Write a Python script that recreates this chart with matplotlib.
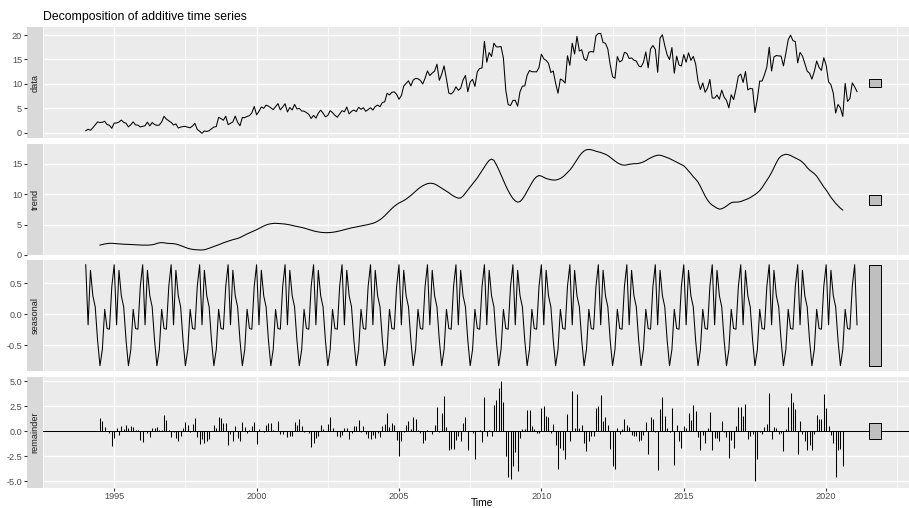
import numpy as np
import matplotlib
matplotlib.use("Agg")
import matplotlib.pyplot as plt
from matplotlib.patches import Rectangle

plt.rcParams["font.family"] = ["Liberation Sans", "DejaVu Sans"]
plt.rcParams["axes.unicode_minus"] = False

# monthly series, Jan 1994 .. Feb 2021 (additive decomposition, period 12)
start_year = 1994
n_obs = 326

# seasonal figure, Jan..Dec
seasonal_pattern = [0.80, -0.17, 0.71, 0.30, 0.12, -0.42, -0.83, -0.57, 0.08, -0.23, -0.24, 0.45]

# trend, Jul 1994 .. Aug 2020
trend_vals = [
    1.60, 1.70, 1.80, 1.85, 1.90, 1.90,
    1.87, 1.85, 1.82, 1.78, 1.75, 1.74, 1.72, 1.70, 1.68, 1.66, 1.64, 1.62,
    1.60, 1.60, 1.60, 1.62, 1.66, 1.75, 1.88, 1.98, 2.02, 1.98, 1.92, 1.88,
    1.86, 1.84, 1.78, 1.66, 1.52, 1.38, 1.22, 1.08, 0.98, 0.90, 0.85, 0.82,
    0.80, 0.80, 0.84, 0.95, 1.08, 1.22, 1.38, 1.52, 1.66, 1.82, 1.98, 2.12,
    2.25, 2.38, 2.50, 2.60, 2.70, 2.85, 3.05, 3.25, 3.45, 3.62, 3.80, 3.98,
    4.15, 4.35, 4.55, 4.75, 4.92, 5.05, 5.13, 5.18, 5.20, 5.18, 5.15, 5.12,
    5.08, 5.02, 4.95, 4.85, 4.76, 4.68, 4.60, 4.52, 4.42, 4.30, 4.18, 4.06,
    3.95, 3.85, 3.78, 3.72, 3.68, 3.66, 3.66, 3.68, 3.72, 3.78, 3.86, 3.95,
    4.05, 4.15, 4.25, 4.35, 4.45, 4.52, 4.60, 4.68, 4.76, 4.84, 4.92, 5.00,
    5.10, 5.20, 5.35, 5.55, 5.80, 6.10, 6.45, 6.85, 7.25, 7.65, 8.00, 8.30,
    8.55, 8.75, 8.95, 9.20, 9.50, 9.80, 10.15, 10.50, 10.85, 11.15, 11.40, 11.60,
    11.75, 11.82, 11.80, 11.70, 11.50, 11.25, 11.00, 10.75, 10.50, 10.25, 9.95, 9.70,
    9.50, 9.35, 9.40, 9.70, 10.20, 10.70, 11.20, 11.70, 12.20, 12.70, 13.30, 13.90,
    14.50, 15.10, 15.60, 15.80, 15.60, 14.90, 14.10, 13.20, 12.30, 11.40, 10.60, 9.90,
    9.30, 8.90, 8.70, 8.80, 9.20, 9.80, 10.50, 11.20, 11.90, 12.50, 12.90, 13.10,
    13.00, 12.80, 12.60, 12.50, 12.40, 12.35, 12.35, 12.45, 12.60, 12.85, 13.20, 13.60,
    14.00, 14.50, 15.10, 15.70, 16.30, 16.80, 17.15, 17.35, 17.40, 17.35, 17.25, 17.10,
    17.00, 16.90, 16.75, 16.60, 16.40, 16.10, 15.80, 15.50, 15.20, 15.00, 14.85, 14.80,
    14.85, 14.95, 15.00, 15.05, 15.05, 15.10, 15.20, 15.35, 15.55, 15.80, 16.00, 16.20,
    16.35, 16.45, 16.45, 16.35, 16.20, 16.05, 15.90, 15.70, 15.50, 15.30, 15.10, 14.90,
    14.70, 14.30, 13.85, 13.40, 12.90, 12.50, 12.00, 11.30, 10.50, 9.70, 9.05, 8.55,
    8.20, 7.95, 7.70, 7.55, 7.60, 7.80, 8.05, 8.35, 8.60, 8.70, 8.70, 8.72,
    8.80, 8.95, 9.10, 9.25, 9.45, 9.70, 9.95, 10.25, 10.60, 11.10, 11.70, 12.30,
    12.90, 13.60, 14.40, 15.20, 15.90, 16.30, 16.50, 16.60, 16.55, 16.40, 16.20, 16.00,
    15.80, 15.60, 15.30, 14.90, 14.40, 14.00, 13.70, 13.40, 13.00, 12.40, 11.80, 11.20,
    10.70, 10.10, 9.50, 9.00, 8.50, 8.10, 7.70, 7.40,
]

# remainder, Jul 1994 .. Aug 2020
remainder_vals = [
    1.3, 1.0, 0.45, 0.05, -0.15, -1.45, -0.7, 0.3, -0.35, 0.5,
    0.25, 0.6, 0.3, 0.5, 0.45, 0.15, 0.15, -0.9, -1.1, 0.0,
    -0.15, -0.55, 0.3, 0.35, 0.45, 0.15, 0.1, 1.6, 1.1, 0.1,
    -0.55, -0.1, -0.7, -1.0, -0.5, 0.3, 0.9, 0.6, -0.05, 0.7,
    1.3, -0.6, -1.3, -0.75, -1.2, -1.0, -0.8, 0.0, 0.6, 0.3,
    1.4, 1.3, 0.8, 0.8, -1.4, -0.3, -1.0, 0.5, -0.7, -1.0,
    0.9, 0.4, -0.2, 0.1, 0.5, 0.95, -1.3, 0.2,
    0.0, -0.05, 0.6, 0.8, 0.8, 0.1, 0.05, 1.0, -0.25, -0.3,
    0.05, -0.6, -0.5, -0.5, 0.9, 0.6, 1.2, 0.5, -0.1, 0.05,
    -0.2, -1.6, -1.2, -0.7, -0.5, 0.6, 0.2, 0.0, 0.7, 1.4,
    0.3, 0.0, -0.45, -0.55, -0.35, 0.3, 0.3, -0.8, -0.2, 0.55,
    0.55, 1.1, -0.05, 0.5, -0.3, -0.7, -0.8, -0.4, -0.7, -0.2,
    -0.6, 0.5, 0.7, 1.8, 0.4, 0.85, 0.6, -0.9, -2.5, -1.0,
    -0.1, 0.6, 1.0, 0.2, 1.45, 1.2, 0.1, -0.2, -1.2, -0.9,
    0.1, 0.05, -0.3, 0.6, 2.4, -0.1, 1.8, 3.5, 0.4, -1.9,
    -1.8, -1.75, -0.9, -0.5, -1.0,
    0.8, 1.4, -1.9, 0.0, -0.2, -2.8, 0.0, 0.1, -1.1, 3.4,
    -0.5, 0.1, -0.5, 2.6, 3.1, 4.3, 5.0, 2.9, -2.5, -4.6,
    -4.8, -3.5, -2.1, -4.0, -0.7, 0.2, 0.2, 2.1, 2.1, 0.5,
    0.2, -0.2, -0.2, 2.3, 2.5, 1.5, 1.4, -0.2, 0.7, -1.4,
    -3.8, -1.7, -1.9, -2.8, 1.7, -1.0, 4.0, 0.3, 3.7, 0.3,
    0.6, -1.2, -2.0, -1.0, -0.5, -0.5, 2.3, 2.5, 3.6, 1.0,
    1.4, 0.6, -1.8, -3.5, -3.8, 0.3, -0.3, 0.2, 1.2, 0.6,
    0.4, -0.4, -0.5, -0.5, -1.0, -0.9, -0.4, 0.9, -2.3, 1.4,
    1.2, -0.1, -3.9, 2.2, 3.4, 1.5, 0.3, -0.1, 2.3, -3.4,
    0.6, -1.0, -1.7, 0.5, 0.3, 1.8, 1.1, 2.6, 2.0, -0.6,
    -1.9, -0.4, -1.2, 0.3, 1.9, -1.9, -0.7, -0.7, -1.0, 1.0,
    -0.1, -0.6, -2.7, -0.9, -1.7, 0.5, 2.4, 2.4, 1.5, 2.7,
    -0.8, -0.5, -0.3, -5.0, -2.8, -0.1, -0.3, 0.4, 0.7, 3.8,
    -0.8, 0.4, 0.3, -0.3, -0.2, -2.0, 0.2, 2.4, 3.8, 2.9,
    2.2, -2.3, 1.0, -0.3, -1.0, -1.9, -1.4, -1.9, -0.3, 1.6,
    1.2, 1.2, 3.7, 2.3, 0.5, -0.4, -1.2, -4.6, -1.9, -1.8, -3.5,
]

# observed values where the centred trend is not defined
head_data = [0.4, 0.7, 0.5, 1.0, 1.6, 2.2]     # Jan-Jun 1994
tail_data = [10.1, 6.4, 7.0, 10.2, 9.4, 8.4]   # Sep 2020 - Feb 2021

assert len(trend_vals) == n_obs - 12, len(trend_vals)
assert len(remainder_vals) == n_obs - 12, len(remainder_vals)

t = start_year + np.arange(n_obs) / 12.0
t_mid = t[6:n_obs - 6]
seasonal = np.tile(seasonal_pattern, n_obs // 12 + 1)[:n_obs]
trend = np.array(trend_vals)
remainder = np.array(remainder_vals)
data = np.concatenate([head_data, trend + seasonal[6:n_obs - 6] + remainder, tail_data])

# ---- layout (pixels of a 909x508 picture) ----
W, H = 909, 508
fig = plt.figure(figsize=(W / 100, H / 100), dpi=100)

x_left, x_right = 43, 921        # panel runs a bit past the right edge
strip_left = 27
xlim = (1992.584, 2023.33)

panels = [
    ("data", 27.0, 138.3, (-1.15, 21.64), [0, 5, 10, 15, 20], ["0", "5", "10", "15", "20"], 2.5),
    ("trend", 144.0, 255.0, (-0.03, 18.3), [0, 5, 10, 15], ["0", "5", "10", "15"], 2.5),
    ("seasonal", 260.0, 371.0, (-0.915, 0.876), [-0.5, 0, 0.5], ["-0.5", "0.0", "0.5"], 0.25),
    ("remainder", 376.5, 487.5, (-5.62, 5.48), [-5, -2.5, 0, 2.5, 5],
     ["-5.0", "-2.5", "0.0", "2.5", "5.0"], 1.25),
]

series = {"data": (t, data), "trend": (t_mid, trend),
          "seasonal": (t, seasonal), "remainder": (t_mid, remainder)}

# range bars at the right (same height in every panel)
ranges = {k: (np.nanmin(v[1]), np.nanmax(v[1])) for k, v in series.items()}
bar_len = min(hi - lo for lo, hi in ranges.values())
bar_w = (t[-1] - t[0]) / 64.0

def box(left, top, right, bottom):
    return [left / W, 1 - bottom / H, (right - left) / W, (bottom - top) / H]

for name, top, bottom, ylim, ticks, labels, minor_step in panels:
    ax = fig.add_axes(box(x_left, top, x_right, bottom))
    ax.set_facecolor("#EBEBEB")
    for s in ax.spines.values():
        s.set_visible(False)
    ax.set_xlim(*xlim)
    ax.set_ylim(*ylim)

    ax.set_xticks([1995, 2000, 2005, 2010, 2015, 2020])
    ax.set_xticks(np.arange(1992.5, 2024, 5), minor=True)
    ax.set_yticks(ticks)
    ax.set_yticks(np.arange(ticks[0] - minor_step, ticks[-1] + 2 * minor_step, 2 * minor_step), minor=True)
    ax.set_ylim(*ylim)
    ax.grid(which="major", color="white", lw=1.0)
    ax.grid(which="minor", color="white", lw=0.5)
    ax.set_axisbelow(True)
    ax.tick_params(which="both", left=False, labelleft=False)
    ax.tick_params(which="minor", bottom=False)

    if name == "remainder":
        ax.tick_params(axis="x", which="major", length=2, width=0.8, color="#333333",
                       labelsize=6.6, labelcolor="#4D4D4D", pad=1.5)
        ax.set_xticklabels(["1995", "2000", "2005", "2010", "2015", "2020"])
    else:
        ax.tick_params(axis="x", which="major", bottom=False, labelbottom=False)

    x, y = series[name]
    if name == "remainder":
        ax.vlines(x, 0, y, color="black", lw=0.75)
        ax.axhline(0, color="black", lw=0.75)
    else:
        ax.plot(x, y, color="black", lw=0.75)

    lo, hi = ranges[name]
    mid = (lo + hi) / 2
    ax.add_patch(Rectangle((t[-1] + bar_w, mid - bar_len / 2), bar_w, bar_len,
                           facecolor="#BFBFBF", edgecolor="black", lw=0.7, zorder=3))

    # strip on the left with the y ticks outside it
    sx = fig.add_axes(box(strip_left, top, x_left, bottom), sharey=ax)
    sx.set_facecolor("#D9D9D9")
    for s in sx.spines.values():
        s.set_visible(False)
    sx.set_xticks([])
    sx.set_yticks(ticks)
    sx.set_yticklabels(labels)
    sx.set_yticks([], minor=True)
    sx.set_ylim(*ylim)
    sx.tick_params(axis="y", length=2, width=0.8, color="#333333",
                   labelsize=6.6, labelcolor="#4D4D4D", pad=1.5)
    sx.text(0.5, 0.5, name, transform=sx.transAxes, rotation=90,
            ha="center", va="center", fontsize=6.6, color="#1A1A1A")

fig.text(x_left / W, 1 - 17 / H, "Decomposition of additive time series",
         ha="left", va="center", fontsize=8.8, color="black")
# axis title sits at the very bottom edge, between the 2005 and 2010 labels
fig.text(482 / W, 0.5 / H, "Time", ha="center", va="bottom", fontsize=7.4, color="black")

fig.savefig("out.png", dpi=100, facecolor="white")
